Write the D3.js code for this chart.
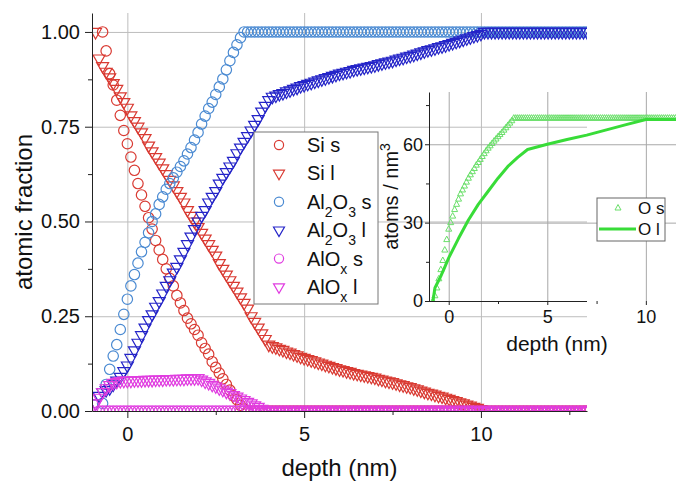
<!DOCTYPE html>
<html lang="en">
<head>
<meta charset="UTF-8">
<title>atomic fraction vs depth</title>
<script src="https://cdn.jsdelivr.net/npm/d3@7"></script>
<style>
  body { margin: 0; background: #fff; }
  svg text { font-family: "Liberation Sans", Arial, sans-serif; fill: #111; }
</style>
</head>
<body>
<svg id="main_svg" width="676" height="483"></svg>
<script>
// depth grid (nm), one row per nm
var depth = [
  -0.9, -0.8, -0.7, -0.6, -0.5, -0.4, -0.3, -0.2, -0.1, 0.0,
  0.1, 0.2, 0.3, 0.4, 0.5, 0.6, 0.7, 0.8, 0.9, 1.0,
  1.1, 1.2, 1.3, 1.4, 1.5, 1.6, 1.7, 1.8, 1.9, 2.0,
  2.1, 2.2, 2.3, 2.4, 2.5, 2.6, 2.7, 2.8, 2.9, 3.0,
  3.1, 3.2, 3.3, 3.4, 3.5, 3.6, 3.7, 3.8, 3.9, 4.0,
  4.1, 4.2, 4.3, 4.4, 4.5, 4.6, 4.7, 4.8, 4.9, 5.0,
  5.1, 5.2, 5.3, 5.4, 5.5, 5.6, 5.7, 5.8, 5.9, 6.0,
  6.1, 6.2, 6.3, 6.4, 6.5, 6.6, 6.7, 6.8, 6.9, 7.0,
  7.1, 7.2, 7.3, 7.4, 7.5, 7.6, 7.7, 7.8, 7.9, 8.0,
  8.1, 8.2, 8.3, 8.4, 8.5, 8.6, 8.7, 8.8, 8.9, 9.0,
  9.1, 9.2, 9.3, 9.4, 9.5, 9.6, 9.7, 9.8, 9.9, 10.0,
  10.1, 10.2, 10.3, 10.4, 10.5, 10.6, 10.7, 10.8, 10.9, 11.0,
  11.1, 11.2, 11.3, 11.4, 11.5, 11.6, 11.7, 11.8, 11.9, 12.0,
  12.1, 12.2, 12.3, 12.4, 12.5, 12.6, 12.7, 12.8, 12.9, 13.0
];

var siS = [
  null, null, 1.00, 0.95, 0.89, 0.86, 0.82, 0.78, 0.74, 0.705,
  0.67, 0.635, 0.60, 0.57, 0.54, 0.51, 0.48, 0.45, 0.425, 0.40,
  0.375, 0.35, 0.33, 0.305, 0.285, 0.265, 0.245, 0.23, 0.215, 0.20,
  0.18, 0.165, 0.15, 0.13, 0.115, 0.10, 0.085, 0.07, 0.055, 0.04,
  0.03, 0.015, 0.005, 0, 0, 0, 0, 0, 0, 0,
  0, 0, 0, 0, 0, 0, 0, 0, 0, 0,
  0, 0, 0, 0, 0, 0, 0, 0, 0, 0,
  0, 0, 0, 0, 0, 0, 0, 0, 0, 0,
  0, 0, 0, 0, 0, 0, 0, 0, 0, 0,
  0, 0, 0, 0, 0, 0, 0, 0, 0, 0,
  0, 0, 0, 0, 0, 0, 0, 0, 0, 0,
  0, 0, 0, 0, 0, 0, 0, 0, 0, 0,
  0, 0, 0, 0, 0, 0, 0, 0, 0, 0,
  0, 0, 0, 0, 0, 0, 0, 0, 0, 0
];

var siL = [
  1.00, 0.93, 0.91, 0.895, 0.88, 0.865, 0.85, 0.83, 0.815, 0.80,
  0.78, 0.765, 0.75, 0.735, 0.72, 0.70, 0.685, 0.67, 0.655, 0.64,
  0.625, 0.61, 0.595, 0.58, 0.565, 0.55, 0.53, 0.515, 0.50, 0.485,
  0.47, 0.455, 0.44, 0.425, 0.41, 0.39, 0.375, 0.36, 0.345, 0.33,
  0.315, 0.30, 0.285, 0.27, 0.25, 0.235, 0.22, 0.205, 0.19, 0.175,
  0.171, 0.168, 0.164, 0.161, 0.157, 0.154, 0.150, 0.147, 0.143, 0.140,
  0.137, 0.134, 0.131, 0.128, 0.125, 0.122, 0.119, 0.116, 0.113, 0.110,
  0.108, 0.105, 0.103, 0.100, 0.098, 0.096, 0.094, 0.092, 0.090, 0.088,
  0.085, 0.083, 0.080, 0.078, 0.076, 0.073, 0.070, 0.068, 0.065, 0.063,
  0.060, 0.057, 0.054, 0.051, 0.048, 0.046, 0.043, 0.040, 0.038, 0.035,
  0.032, 0.029, 0.026, 0.023, 0.020, 0.017, 0.014, 0.011, 0.008, 0.005,
  0, 0, 0, 0, 0, 0, 0, 0, 0, 0,
  0, 0, 0, 0, 0, 0, 0, 0, 0, 0,
  0, 0, 0, 0, 0, 0, 0, 0, 0, 0
];

var al2o3S = [
  null, null, 0.02, 0.07, 0.11, 0.145, 0.175, 0.215, 0.255, 0.295,
  0.33, 0.36, 0.39, 0.42, 0.445, 0.47, 0.50, 0.52, 0.545, 0.565,
  0.585, 0.60, 0.615, 0.63, 0.645, 0.66, 0.678, 0.695, 0.715, 0.735,
  0.757, 0.778, 0.798, 0.815, 0.835, 0.855, 0.876, 0.90, 0.924, 0.946,
  0.966, 0.985, 1.0, 1.0, 1.0, 1.0, 1.0, 1.0, 1.0, 1.0,
  1.0, 1.0, 1.0, 1.0, 1.0, 1.0, 1.0, 1.0, 1.0, 1.0,
  1.0, 1.0, 1.0, 1.0, 1.0, 1.0, 1.0, 1.0, 1.0, 1.0,
  1.0, 1.0, 1.0, 1.0, 1.0, 1.0, 1.0, 1.0, 1.0, 1.0,
  1.0, 1.0, 1.0, 1.0, 1.0, 1.0, 1.0, 1.0, 1.0, 1.0,
  1.0, 1.0, 1.0, 1.0, 1.0, 1.0, 1.0, 1.0, 1.0, 1.0,
  1.0, 1.0, 1.0, 1.0, 1.0, 1.0, 1.0, 1.0, 1.0, 1.0,
  1.0, 1.0, 1.0, 1.0, 1.0, 1.0, 1.0, 1.0, 1.0, 1.0,
  1.0, 1.0, 1.0, 1.0, 1.0, 1.0, 1.0, 1.0, 1.0, 1.0,
  1.0, 1.0, 1.0, 1.0, 1.0, 1.0, 1.0, 1.0, 1.0, 1.0
];

var al2o3L = [
  0.02, 0.04, 0.05, 0.055, 0.06, 0.07, 0.08, 0.09, 0.105, 0.12,
  0.14, 0.16, 0.18, 0.20, 0.22, 0.24, 0.255, 0.275, 0.29, 0.31,
  0.33, 0.345, 0.365, 0.38, 0.40, 0.42, 0.44, 0.46, 0.48, 0.50,
  0.515, 0.53, 0.55, 0.565, 0.58, 0.60, 0.615, 0.63, 0.645, 0.66,
  0.68, 0.695, 0.71, 0.725, 0.74, 0.755, 0.77, 0.79, 0.805, 0.82,
  0.829, 0.832, 0.836, 0.839, 0.843, 0.846, 0.850, 0.853, 0.857, 0.860,
  0.863, 0.866, 0.869, 0.872, 0.875, 0.878, 0.881, 0.884, 0.887, 0.890,
  0.892, 0.895, 0.897, 0.900, 0.902, 0.904, 0.906, 0.908, 0.910, 0.912,
  0.915, 0.917, 0.920, 0.922, 0.924, 0.927, 0.930, 0.932, 0.935, 0.937,
  0.940, 0.943, 0.946, 0.949, 0.952, 0.954, 0.957, 0.960, 0.962, 0.965,
  0.968, 0.971, 0.974, 0.977, 0.980, 0.983, 0.986, 0.989, 0.992, 0.995,
  1.0, 1.0, 1.0, 1.0, 1.0, 1.0, 1.0, 1.0, 1.0, 1.0,
  1.0, 1.0, 1.0, 1.0, 1.0, 1.0, 1.0, 1.0, 1.0, 1.0,
  1.0, 1.0, 1.0, 1.0, 1.0, 1.0, 1.0, 1.0, 1.0, 1.0
];

var aloxS = [
  null, 0, 0, 0, 0, 0, 0, 0, 0, 0,
  0, 0, 0, 0, 0, 0, 0, 0, 0, 0,
  0, 0, 0, 0, 0, 0, 0, 0, 0, 0,
  0, 0, 0, 0, 0, 0, 0, 0, 0, 0,
  0, 0, 0, 0, 0, 0, 0, 0, 0, 0,
  0, 0, 0, 0, 0, 0, 0, 0, 0, 0,
  0, 0, 0, 0, 0, 0, 0, 0, 0, 0,
  0, 0, 0, 0, 0, 0, 0, 0, 0, 0,
  0, 0, 0, 0, 0, 0, 0, 0, 0, 0,
  0, 0, 0, 0, 0, 0, 0, 0, 0, 0,
  0, 0, 0, 0, 0, 0, 0, 0, 0, 0,
  0, 0, 0, 0, 0, 0, 0, 0, 0, 0,
  0, 0, 0, 0, 0, 0, 0, 0, 0, 0,
  0, 0, 0, 0, 0, 0, 0, 0, 0, 0
];

var aloxL = [
  0.02, 0.035, 0.05, 0.06, 0.068, 0.074, 0.077, 0.079, 0.08, 0.08,
  0.08, 0.081, 0.081, 0.081, 0.082, 0.082, 0.082, 0.083, 0.083, 0.083,
  0.084, 0.084, 0.084, 0.085, 0.085, 0.085, 0.086, 0.086, 0.086, 0.087,
  0.083, 0.078, 0.074, 0.069, 0.065, 0.060, 0.056, 0.051, 0.047, 0.042,
  0.038, 0.033, 0.029, 0.024, 0.020, 0.015, 0.011, 0.006, 0.002, 0,
  0, 0, 0, 0, 0, 0, 0, 0, 0, 0,
  0, 0, 0, 0, 0, 0, 0, 0, 0, 0,
  0, 0, 0, 0, 0, 0, 0, 0, 0, 0,
  0, 0, 0, 0, 0, 0, 0, 0, 0, 0,
  0, 0, 0, 0, 0, 0, 0, 0, 0, 0,
  0, 0, 0, 0, 0, 0, 0, 0, 0, 0,
  0, 0, 0, 0, 0, 0, 0, 0, 0, 0,
  0, 0, 0, 0, 0, 0, 0, 0, 0, 0,
  0, 0, 0, 0, 0, 0, 0, 0, 0, 0
];

// inset: O density (atoms / nm3)
var oS = [
  null, 0, 2, 5, 8.5, 12, 15.5, 19.5, 23.5, 27.5,
  30, 32.5, 35, 37, 39, 41, 42.5, 44, 45.5, 47,
  48.3, 49.5, 50.7, 52, 53, 54.2, 55.3, 56.4, 57.5, 58.5,
  59.4, 60.3, 61.2, 62, 62.9, 63.7, 64.5, 65.4, 66.3, 67.2,
  68.1, 69, 70, 70, 70, 70, 70, 70, 70, 70,
  70, 70, 70, 70, 70, 70, 70, 70, 70, 70,
  70, 70, 70, 70, 70, 70, 70, 70, 70, 70,
  70, 70, 70, 70, 70, 70, 70, 70, 70, 70,
  70, 70, 70, 70, 70, 70, 70, 70, 70, 70,
  70, 70, 70, 70, 70, 70, 70, 70, 70, 70,
  70, 70, 70, 70, 70, 70, 70, 70, 70, 70,
  70, 70, 70, 70, 70, 70, 70, 70, 70, 70,
  70, 70, 70, 70, 70, 70, 70, 70, 70, 70,
  70, 70, 70, 70, 70, 70, 70, 70, 70, 70
];
var oLDepth = [-0.8, -0.7, -0.6, -0.4, -0.2, 0, 0.5, 1, 1.5, 2, 2.5, 3, 3.5, 4, 5, 6, 7, 8, 9, 10, 11, 12, 13];
var oL = [0, 5, 6.5, 9.5, 13, 16.5, 24, 31, 37, 42, 47, 51.5, 55, 58, 60, 61.8, 63.5, 65.5, 67.5, 69.5, 69.5, 69.5, 69.5];

var mainXTicks = [0, 5, 10];
var mainXMinor = [2.5, 7.5, 12.5];
var mainYTicks = [0, 0.25, 0.5, 0.75, 1.0];
var mainYMinor = [0.125, 0.375, 0.625, 0.875];
var insetXTicks = [0, 5, 10];
var insetXMinor = [2.5, 7.5];
var insetYTicks = [0, 30, 60];
var insetYMinor = [15, 45, 75];

var legendLabels = ["Si s", "Si l", "Al_2O_3 s", "Al_2O_3 l", "AlO_x s", "AlO_x l"];

var RED = "#d93a32", LBLUE = "#4a8ad2", DBLUE = "#2424c8", MAG = "#e03ce0";
var GREEN = "#38dc38", LGREEN = "#6adf6a";
var FONT = "Liberation Sans, Arial, sans-serif";

var series = [
  { vals: siS, shape: "circle", color: RED },
  { vals: siL, shape: "tri", color: RED },
  { vals: al2o3S, shape: "circle", color: LBLUE },
  { vals: al2o3L, shape: "tri", color: DBLUE },
  { vals: aloxS, shape: "circle", color: MAG },
  { vals: aloxL, shape: "tri", color: MAG }
];

var triDown = "M-6,-3.5L6,-3.5L0,7Z";
var triDownSmall = "M-5.5,-3.2L5.5,-3.2L0,6.4Z";
var triUpSmall = "M-3,2L3,2L0,-3.5Z";

var svg = d3.select("#main_svg");

// ---------- main plot ----------
var x = d3.scaleLinear().domain([-1, 13]).range([92, 587]);
var y = d3.scaleLinear().domain([0, 1.05]).range([411, 13]);

svg.append("clipPath").attr("id", "main_clip")
  .append("rect")
  .attr("x", x.range()[0]).attr("y", y.range()[1])
  .attr("width", x.range()[1] - x.range()[0])
  .attr("height", y.range()[0] - y.range()[1]);

// grid
var grid = svg.append("g").attr("stroke", "#bdbdbd").attr("stroke-width", 1);
grid.selectAll(".vg").data(mainXTicks).enter().append("line")
  .attr("x1", function (d) { return x(d) + 0.5; }).attr("x2", function (d) { return x(d) + 0.5; })
  .attr("y1", y.range()[1]).attr("y2", y.range()[0]);
grid.selectAll(".hg").data(mainYTicks.slice(1)).enter().append("line")
  .attr("y1", function (d) { return y(d) + 0.5; }).attr("y2", function (d) { return y(d) + 0.5; })
  .attr("x1", x.range()[0]).attr("x2", x.range()[1]);

// markers
var plot = svg.append("g").attr("clip-path", "url(#main_clip)");
series.forEach(function (s) {
  var pts = depth.map(function (d, i) { return { x: d, y: s.vals[i] }; })
    .filter(function (p) { return p.y != null; });
  var g = plot.append("g")
    .attr("fill", "none").attr("stroke", s.color).attr("stroke-width", 1.2);
  if (s.shape == "circle") {
    g.selectAll("circle").data(pts).enter().append("circle")
      .attr("cx", function (p) { return x(p.x); })
      .attr("cy", function (p) { return y(p.y); })
      .attr("r", 5.2);
  } else {
    g.selectAll("path").data(pts).enter().append("path")
      .attr("d", triDown)
      .attr("transform", function (p) { return "translate(" + x(p.x) + "," + y(p.y) + ")"; });
  }
});

// axes
function styleAxis(g, size) {
  g.attr("font-family", FONT).attr("font-size", size);
  g.selectAll("path, line").attr("stroke", "#222");
  g.selectAll("text").attr("fill", "#111");
}
svg.append("g").attr("transform", "translate(" + x.range()[0] + ",0)")
  .call(d3.axisLeft(y).tickValues(mainYTicks).tickFormat(d3.format(".2f"))
    .tickSize(7).tickSizeOuter(0).tickPadding(5))
  .call(styleAxis, 20);
svg.append("g").attr("transform", "translate(" + x.range()[0] + ",0)")
  .call(d3.axisLeft(y).tickValues(mainYMinor).tickFormat("").tickSize(4))
  .call(function (g) { g.select(".domain").remove(); })
  .call(styleAxis, 20);
svg.append("g").attr("transform", "translate(0," + y.range()[0] + ")")
  .call(d3.axisBottom(x).tickValues(mainXTicks).tickFormat(d3.format("d"))
    .tickSize(7).tickSizeOuter(0).tickPadding(9))
  .call(styleAxis, 20);
svg.append("g").attr("transform", "translate(0," + y.range()[0] + ")")
  .call(d3.axisBottom(x).tickValues(mainXMinor).tickFormat("").tickSize(4))
  .call(function (g) { g.select(".domain").remove(); })
  .call(styleAxis, 20);

svg.append("text")
  .attr("x", (x.range()[0] + x.range()[1]) / 2).attr("y", 476)
  .attr("text-anchor", "middle").attr("font-size", 24)
  .text("depth (nm)");
svg.append("text")
  .attr("transform", "translate(32," + (y.range()[0] + y.range()[1]) / 2 + ") rotate(-90)")
  .attr("text-anchor", "middle").attr("font-size", 24)
  .text("atomic fraction");

// rich text with _x subscripts
function richText(sel, str, subSize) {
  str.split(/_(\w)/).forEach(function (p, i) {
    if (!p) return;
    var t = sel.append("tspan").text(p);
    if (i % 2 == 1) t.attr("baseline-shift", "sub").attr("font-size", subSize);
  });
}

// legend
var leg = svg.append("g").attr("transform", "translate(254,132)");
leg.append("rect").attr("width", 124).attr("height", 172)
  .attr("fill", "#fff").attr("stroke", "#777").attr("stroke-width", 1);
leg.selectAll("g.item").data(series).enter().append("g")
  .attr("class", "item")
  .attr("transform", function (d, i) { return "translate(0," + (13 + i * 28.4) + ")"; })
  .each(function (d, i) {
    var g = d3.select(this);
    if (d.shape == "circle") {
      g.append("circle").attr("cx", 25).attr("cy", 0).attr("r", 4.6)
        .attr("fill", "none").attr("stroke", d.color).attr("stroke-width", 1.2);
    } else {
      g.append("path").attr("d", triDownSmall).attr("transform", "translate(25,0)")
        .attr("fill", "none").attr("stroke", d.color).attr("stroke-width", 1.2);
    }
    var t = g.append("text").attr("x", 53).attr("y", 7).attr("font-size", 20);
    richText(t, legendLabels[i], 14);
  });

// ---------- inset ----------
var ix = d3.scaleLinear().domain([-1, 13]).range([429, 705]);
var iy = d3.scaleLinear().domain([0, 80]).range([301, 92]);

svg.append("clipPath").attr("id", "inset_clip")
  .append("rect")
  .attr("x", ix.range()[0]).attr("y", iy.range()[1] - 6)
  .attr("width", ix.range()[1] - ix.range()[0])
  .attr("height", iy.range()[0] - iy.range()[1] + 6);

var igrid = svg.append("g").attr("stroke", "#a8a8a8").attr("stroke-width", 1);
igrid.selectAll(".vg").data(insetXTicks).enter().append("line")
  .attr("x1", function (d) { return ix(d) + 0.5; }).attr("x2", function (d) { return ix(d) + 0.5; })
  .attr("y1", iy.range()[1]).attr("y2", iy.range()[0]);
igrid.selectAll(".hg").data(insetYTicks.slice(1)).enter().append("line")
  .attr("y1", function (d) { return iy(d) + 0.5; }).attr("y2", function (d) { return iy(d) + 0.5; })
  .attr("x1", ix.range()[0]).attr("x2", ix.range()[1]);

var iplot = svg.append("g").attr("clip-path", "url(#inset_clip)");
var oPts = depth.map(function (d, i) { return { x: d, y: oS[i] }; })
  .filter(function (p) { return p.y != null; });
iplot.append("g").attr("fill", "none").attr("stroke", LGREEN).attr("stroke-width", 1)
  .selectAll("path").data(oPts).enter().append("path")
  .attr("d", triUpSmall)
  .attr("transform", function (p) { return "translate(" + ix(p.x) + "," + iy(p.y) + ")"; });
iplot.append("path")
  .datum(oLDepth.map(function (d, i) { return [d, oL[i]]; }))
  .attr("fill", "none").attr("stroke", GREEN).attr("stroke-width", 3)
  .attr("stroke-linejoin", "round")
  .attr("d", d3.line().x(function (d) { return ix(d[0]); }).y(function (d) { return iy(d[1]); }));

svg.append("g").attr("transform", "translate(" + ix.range()[0] + ",0)")
  .call(d3.axisLeft(iy).tickValues(insetYTicks).tickSize(4).tickSizeOuter(0).tickPadding(2))
  .call(styleAxis, 18);
svg.append("g").attr("transform", "translate(" + ix.range()[0] + ",0)")
  .call(d3.axisLeft(iy).tickValues(insetYMinor).tickFormat("").tickSize(3))
  .call(function (g) { g.select(".domain").remove(); })
  .call(styleAxis, 18);
svg.append("g").attr("transform", "translate(0," + iy.range()[0] + ")")
  .call(d3.axisBottom(ix).tickValues(insetXTicks).tickSize(4).tickSizeOuter(0).tickPadding(5))
  .call(function (g) { g.select(".domain").remove(); })
  .call(styleAxis, 18);
svg.append("g").attr("transform", "translate(0," + iy.range()[0] + ")")
  .call(d3.axisBottom(ix).tickValues(insetXMinor).tickFormat("").tickSize(3))
  .call(function (g) { g.select(".domain").remove(); })
  .call(styleAxis, 18);
// inset x axis line stops at the main plot's right edge
svg.append("line")
  .attr("x1", ix.range()[0] - 4).attr("x2", x.range()[1])
  .attr("y1", iy.range()[0] + 0.5).attr("y2", iy.range()[0] + 0.5)
  .attr("stroke", "#222");

svg.append("text")
  .attr("x", 557).attr("y", 351)
  .attr("text-anchor", "middle").attr("font-size", 21)
  .text("depth (nm)");
var ylab = svg.append("text")
  .attr("transform", "translate(398," + (iy.range()[0] + iy.range()[1]) / 2 + ") rotate(-90)")
  .attr("text-anchor", "middle").attr("font-size", 20);
ylab.append("tspan").text("atoms / nm");
ylab.append("tspan").attr("baseline-shift", "super").attr("font-size", 14).text("3");

// inset legend
var ileg = svg.append("g").attr("transform", "translate(597,198)");
ileg.append("rect").attr("width", 68).attr("height", 43)
  .attr("fill", "#fff").attr("stroke", "#666").attr("stroke-width", 1);
ileg.append("path").attr("d", triUpSmall).attr("transform", "translate(21,10)")
  .attr("fill", "none").attr("stroke", LGREEN).attr("stroke-width", 1);
ileg.append("text").attr("x", 41).attr("y", 16).attr("font-size", 17).text("O s");
ileg.append("line").attr("x1", 2).attr("x2", 39).attr("y1", 31).attr("y2", 31)
  .attr("stroke", GREEN).attr("stroke-width", 3);
ileg.append("text").attr("x", 41).attr("y", 37).attr("font-size", 17).text("O l");
</script>
</body>
</html>
